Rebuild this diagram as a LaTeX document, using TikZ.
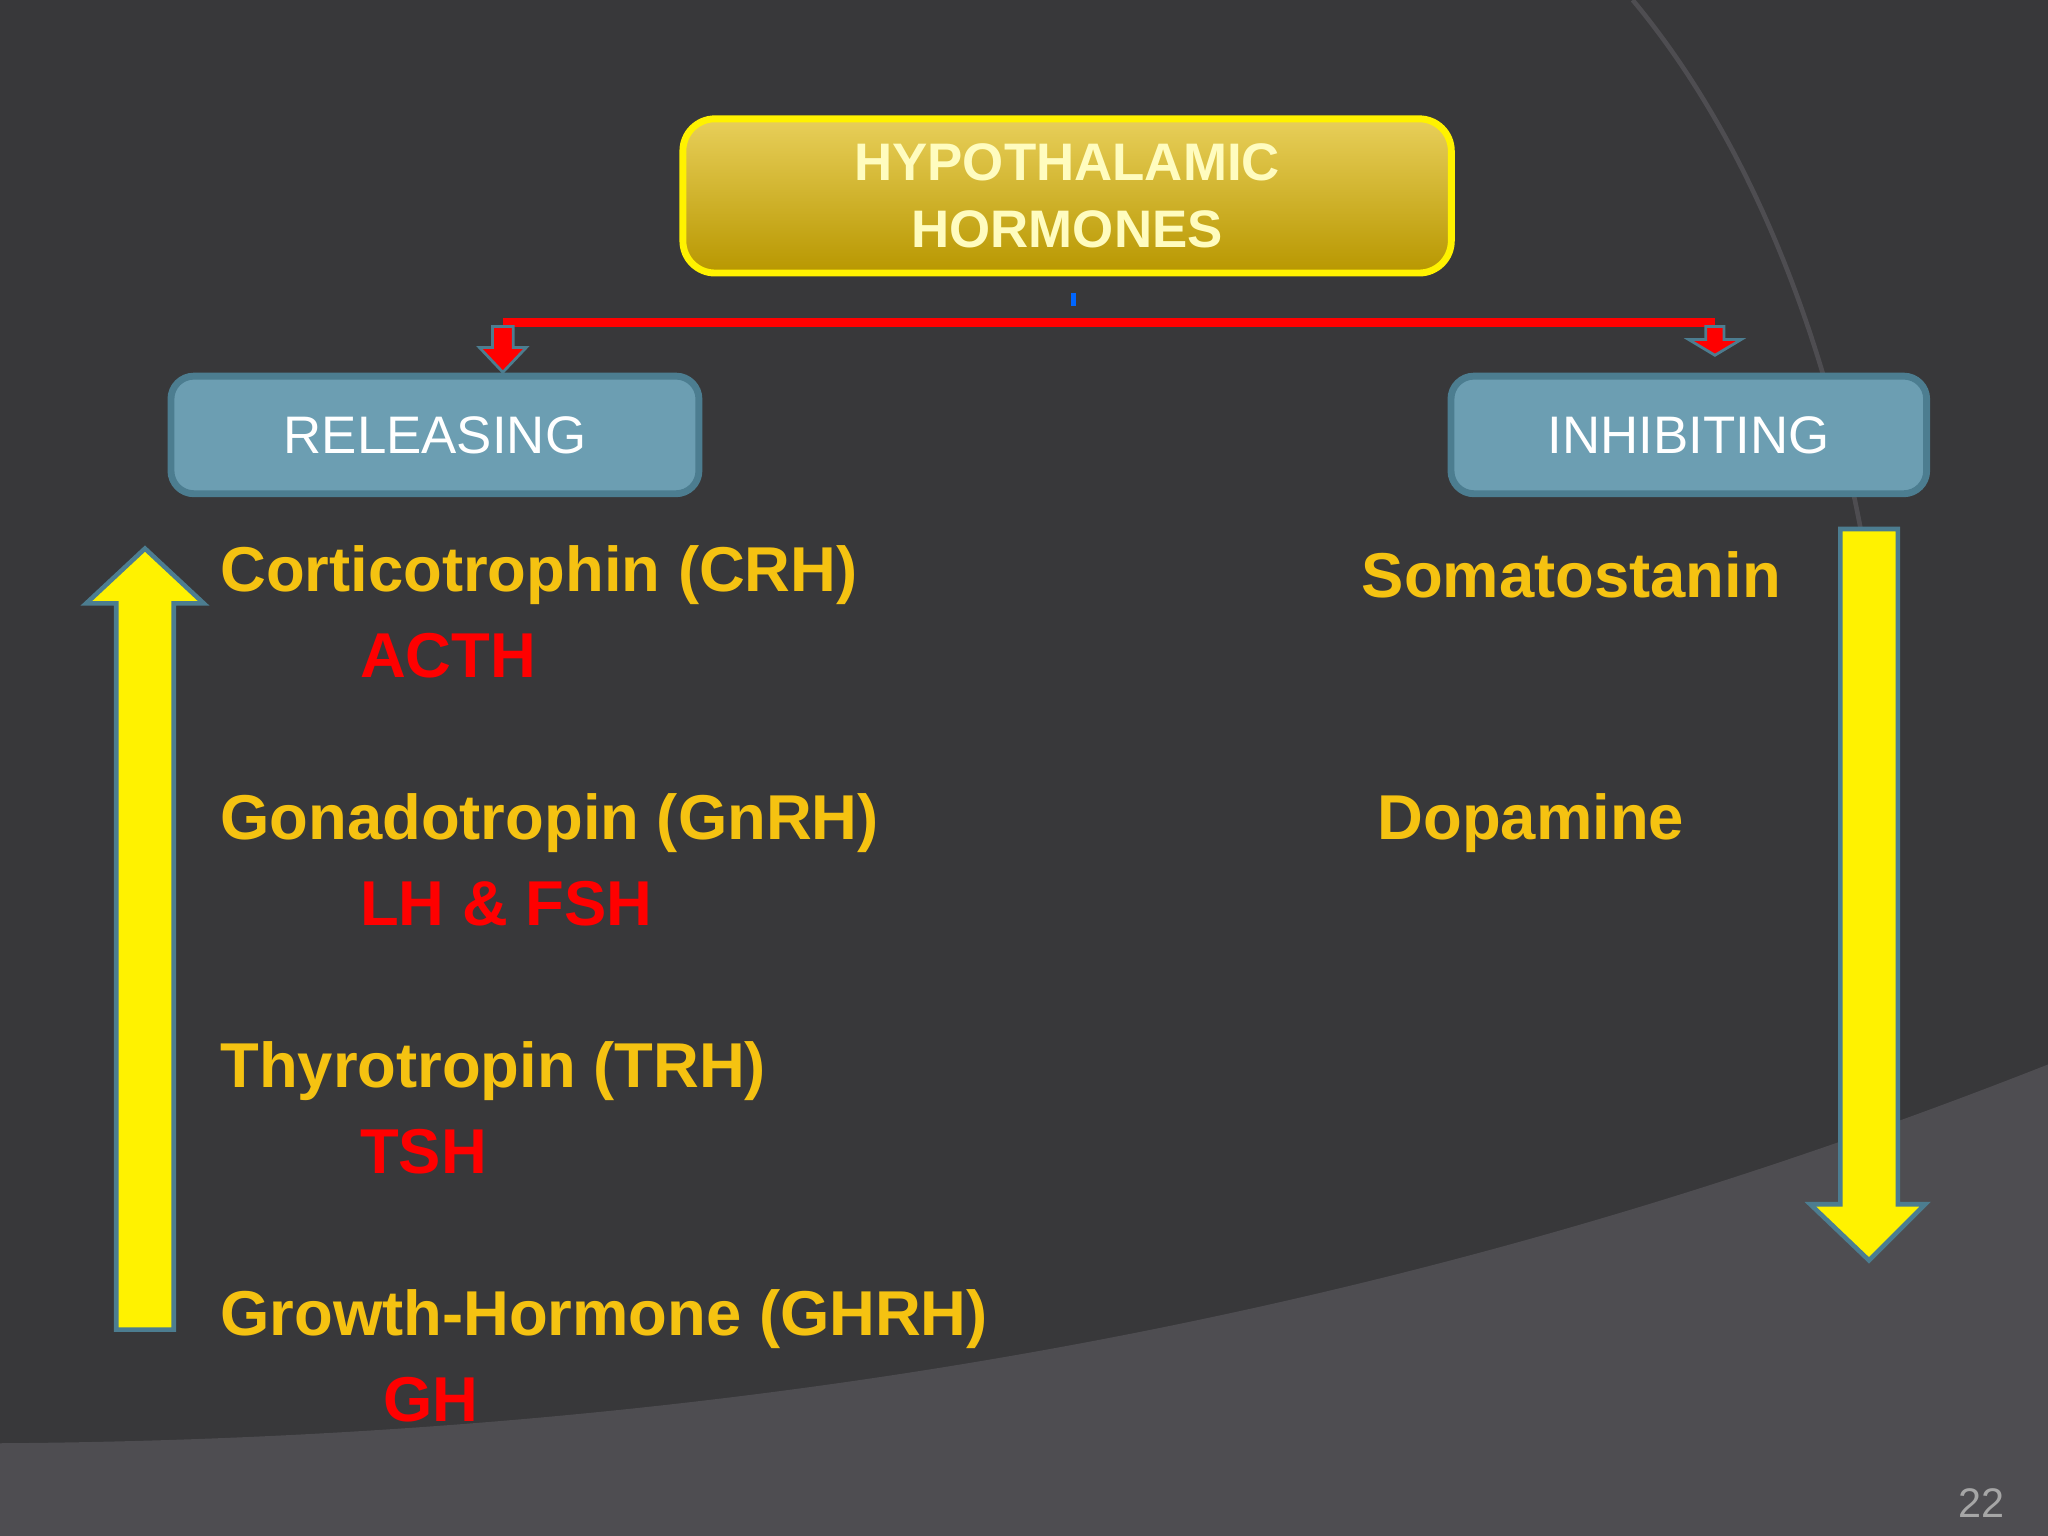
\documentclass[tikz,border=0pt]{standalone}
\usepackage{fontspec}
\setmainfont{Liberation Sans}
\definecolor{bg}{HTML}{38383A}
\definecolor{bgl}{HTML}{4E4D51}
\definecolor{gold}{HTML}{F5C211}
\definecolor{boxb}{HTML}{6C9EB2}
\definecolor{boxe}{HTML}{4C7D90}
\definecolor{gtop}{HTML}{E8CF5A}
\definecolor{gbot}{HTML}{B89700}
\tikzset{
 hb/.style={draw=boxe,line width=1.5pt,fill=boxb,rounded corners=5pt,text=white,font=\fontsize{11.5}{14}\selectfont},
 gt/.style={anchor=west,text=gold,font=\bfseries\fontsize{13.8}{16}\selectfont,inner sep=0},
 rt/.style={anchor=west,text=red,font=\bfseries\fontsize{13.8}{16}\selectfont,inner sep=0},
 yarr/.style={fill=yellow,draw=boxe,line width=1pt},
 redarr/.style={fill=red,draw=boxe,line width=0.6pt}
}
\begin{document}
\begin{tikzpicture}[x=0.01cm,y=-0.01cm]
\useasboundingbox (0,0) rectangle (1568,1176);
\fill[bg] (0,0) rectangle (1568,1176);
\fill[bgl] (0,1105) .. controls (700,1100) and (1200,960) .. (1568,815) -- (1568,1176) -- (0,1176) -- cycle;
\draw[bgl,line width=1pt] (1250,0) .. controls (1400,180) and (1480,500) .. (1440,880);
% top box
\node[draw=yellow,line width=1.5pt,rounded corners=7pt,top color=gtop,bottom color=gbot,minimum width=5.88cm,minimum height=1.18cm,text=yellow!25!white,font=\bfseries\fontsize{11.5}{14.5}\selectfont,align=center] (top) at (817,150) {HYPOTHALAMIC\\HORMONES};
\node[hb,minimum width=4.04cm,minimum height=0.9cm] (rel) at (333,333) {RELEASING};
\node[hb,minimum width=3.64cm,minimum height=0.9cm] (inh) at (1293,333) {INHIBITING};
\coordinate (l) at (385,247); \coordinate (r) at (1313,247);
\draw[blue!60!cyan,line width=1pt] (822,224) -- (822,234);
\draw[red,line width=2pt] (l) -- (r);
\draw[redarr] (377,250) -- (393,250) -- (393,266) -- (403,266) -- (385,285) -- (367,266) -- (377,266) -- cycle;
\draw[redarr] (1306,250) -- (1320,250) -- (1320,260) -- (1333,260) -- (1313,272) -- (1293,260) -- (1306,260) -- cycle;
% arrows
\draw[yarr] (89,1018) -- (89,462) -- (66,462) -- (111,420) -- (156,462) -- (133,462) -- (133,1018) -- cycle;
\draw[yarr] (1409,405) -- (1453,405) -- (1453,922) -- (1474,922) -- (1431,965) -- (1386,922) -- (1409,922) -- cycle;
% texts
\node[gt] (t1) at (168,440) {Corticotrophin (CRH)};
\node[rt] (r1) at (275,502) {ACTH};
\node[gt] (t2) at (168,630) {Gonadotropin (GnRH)};
\node[rt] (r2) at (275,692) {LH \& FSH};
\node[gt] (t3) at (168,820) {Thyrotropin (TRH)};
\node[rt] (r3) at (275,882) {TSH};
\node[gt] (t4) at (168,1010) {Growth-Hormone (GHRH)};
\node[rt] (r4) at (293,1072) {GH};
\node[gt] (s1) at (1042,440) {Somatostanin};
\node[gt] (s2) at (1054,630) {Dopamine};
\node[text=gray!70,font=\fontsize{9}{11}\selectfont] (pn) at (1517,1151) {22};
\end{tikzpicture}
\end{document}
